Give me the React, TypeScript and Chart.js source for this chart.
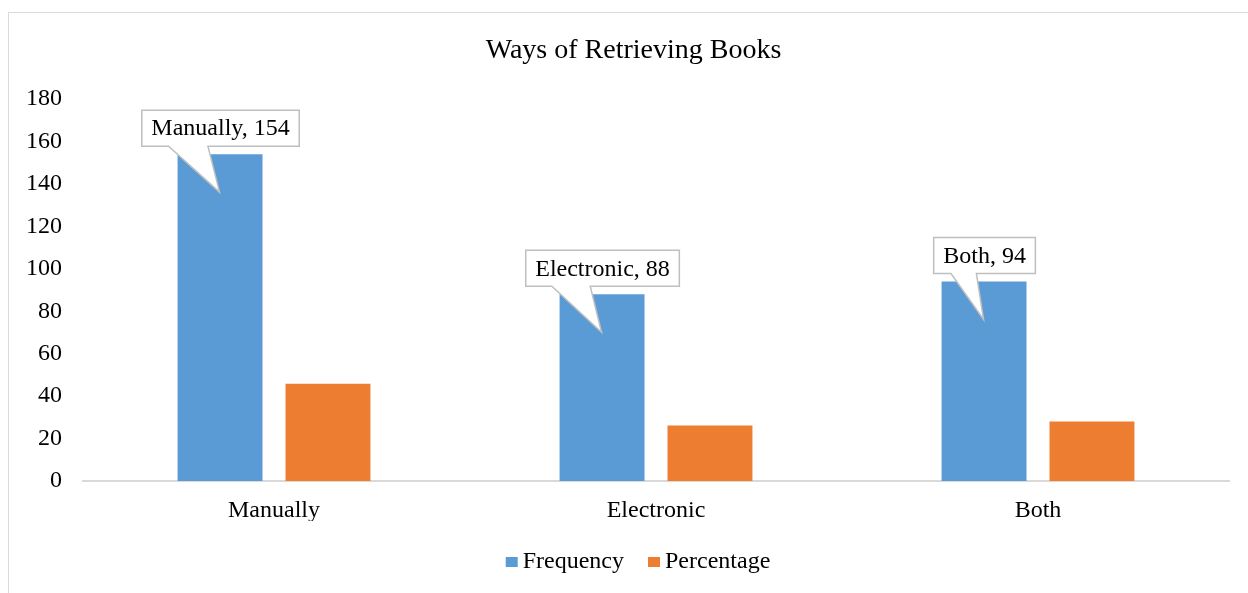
import React, { useEffect, useRef } from "react";
import { Chart, registerables } from "chart.js";

Chart.register(...registerables);

const chartTitle = "Ways of Retrieving Books";
const categories = ["Manually", "Electronic", "Both"];
const seriesNames = ["Frequency", "Percentage"];
const frequency = [154, 88, 94];
const percentage = [45.8, 26.2, 28.0];
const yMin = 0;
const yMax = 180;
const yStep = 20;
const seriesColors = ["#5B9BD5", "#ED7D31"];

const FONT = "'Liberation Serif', 'Times New Roman', serif";
const CANVAS_W = 1239;
const CANVAS_H = 580;

const calloutPlugin = {
  id: "callouts",
  afterDatasetsDraw(chart: any) {
    const ctx = chart.ctx;
    const meta = chart.getDatasetMeta(0);
    ctx.save();
    ctx.font = `24px ${FONT}`;
    meta.data.forEach((bar: any, i: number) => {
      const { x, y } = bar.getProps(["x", "y"], true);
      const label = `${categories[i]}, ${frequency[i]}`;
      const tw = ctx.measureText(label).width;
      const bw = tw + 19;
      const bh = 36;
      const left = x + 0.5 - bw / 2;
      const right = left + bw;
      const bottom = y - 8;
      const top = bottom - bh;
      const tipX = x - 0.5;
      const tipY = y + 38;
      const b1 = left + 0.17 * bw;
      const b2 = left + 0.42 * bw;
      ctx.beginPath();
      ctx.moveTo(left, top);
      ctx.lineTo(right, top);
      ctx.lineTo(right, bottom);
      ctx.lineTo(b2, bottom);
      ctx.lineTo(tipX, tipY);
      ctx.lineTo(b1, bottom);
      ctx.lineTo(left, bottom);
      ctx.closePath();
      ctx.fillStyle = "#ffffff";
      ctx.fill();
      ctx.lineWidth = 1.5;
      ctx.strokeStyle = "#bfbfbf";
      ctx.lineJoin = "miter";
      ctx.stroke();
      ctx.fillStyle = "#000000";
      ctx.textAlign = "center";
      ctx.textBaseline = "middle";
      ctx.fillText(label, left + bw / 2, top + bh / 2 + 1);
    });
    ctx.restore();
  },
};

const shiftPlugin = {
  id: "shiftBoxes",
  afterLayout(chart: any) {
    const t = chart.titleBlock;
    if (t) {
      t.left += 14.5;
      t.right += 14.5;
    }
    const l = chart.legend;
    if (l) {
      l.left += 21.5;
      l.right += 21.5;
    }
  },
};

// draws the legend swatches close to their text (Excel-like spacing)
const legendSwatchPlugin = {
  id: "legendSwatches",
  afterDraw(chart: any) {
    const l = chart.legend;
    if (!l || !l.legendHitBoxes) return;
    const ctx = chart.ctx;
    ctx.save();
    l.legendHitBoxes.forEach((hb: any, i: number) => {
      const cy = hb.top + hb.height / 2;
      ctx.fillStyle = seriesColors[i];
      ctx.fillRect(hb.left - 5, cy - 5, 12, 10);
    });
    ctx.restore();
  },
};

export default function App() {
  const canvasRef = useRef<HTMLCanvasElement | null>(null);

  useEffect(() => {
    document.documentElement.style.overflow = "hidden";
    const canvas = canvasRef.current;
    if (!canvas) return;
    const chart = new Chart(canvas, {
      type: "bar",
      data: {
        labels: categories,
        datasets: [
          {
            label: seriesNames[0],
            data: frequency,
            backgroundColor: seriesColors[0],
            borderWidth: 0,
            categoryPercentage: 0.565,
            barPercentage: 0.787,
          },
          {
            label: seriesNames[1],
            data: percentage,
            backgroundColor: seriesColors[1],
            borderWidth: 0,
            categoryPercentage: 0.565,
            barPercentage: 0.787,
          },
        ],
      },
      options: {
        responsive: false,
        animation: false,
        devicePixelRatio: 1,
        layout: {
          padding: { left: 0, right: CANVAS_W - 1220, top: 0, bottom: 9 },
        },
        font: { family: FONT },
        plugins: {
          title: {
            display: true,
            text: chartTitle,
            color: "#000000",
            font: { family: FONT, size: 28, weight: "normal" },
            padding: { top: 21.2, bottom: 31.2 },
          },
          legend: {
            display: true,
            position: "bottom",
            labels: {
              color: "#000000",
              font: { family: FONT, size: 24 },
              boxWidth: 0,
              boxHeight: 0,
              padding: 29,
            },
          },
          tooltip: { enabled: false },
        },
        scales: {
          x: {
            grid: { display: false, drawTicks: false },
            border: { display: true, color: "#d9d9d9", width: 2 },
            ticks: {
              color: "#000000",
              font: { family: FONT, size: 24 },
              padding: 15,
            },
            afterFit(scale: any) {
              scale.height = 40;
            },
          },
          y: {
            min: yMin,
            max: yMax,
            grid: { display: false, drawTicks: false },
            border: { display: false },
            ticks: {
              stepSize: yStep,
              color: "#000000",
              font: { family: FONT, size: 24 },
              padding: 21,
            },
            afterFit(scale: any) {
              scale.width = 74;
            },
          },
        },
      },
      plugins: [shiftPlugin, calloutPlugin, legendSwatchPlugin],
    });
    return () => chart.destroy();
  }, []);

  return (
    <div
      style={{
        position: "fixed",
        left: 0,
        top: 0,
        width: 1248,
        height: 593,
        overflow: "hidden",
        background: "#ffffff",
      }}
    >
      <div
        style={{
          position: "absolute",
          left: 8,
          top: 12,
          width: 1300,
          height: 700,
          border: "1px solid #d9d9d9",
          boxSizing: "border-box",
        }}
      >
        <canvas
          ref={canvasRef}
          width={CANVAS_W}
          height={CANVAS_H}
          style={{ display: "block", width: CANVAS_W, height: CANVAS_H }}
        />
      </div>
    </div>
  );
}
